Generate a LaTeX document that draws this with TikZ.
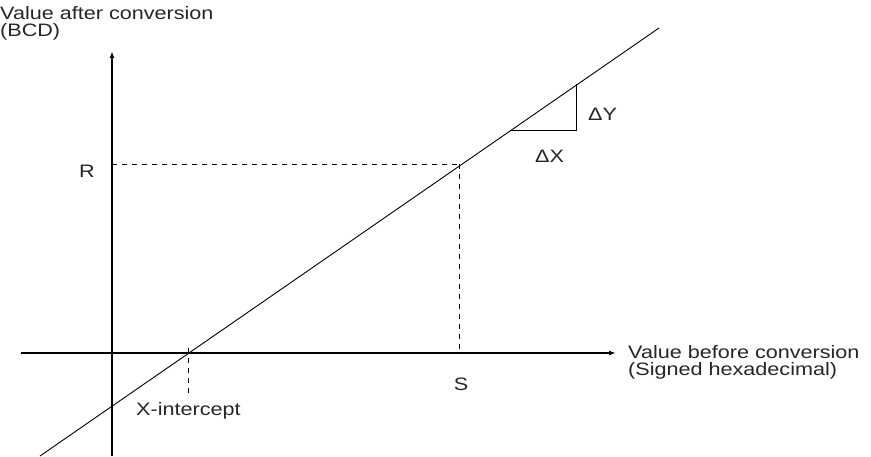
\documentclass[tikz,border=0pt]{standalone}
\usepackage{fontspec}
\setmainfont{Liberation Sans}
\newfontfamily\lblfont[FakeStretch=1.2]{Liberation Sans}
\usetikzlibrary{arrows.meta}
\begin{document}
\begin{tikzpicture}[x=1pt,y=-1pt,
  lbl/.style={inner sep=0pt,font=\lblfont\fontsize{18}{18}\selectfont,text=black!85},
  axis/.style={line width=1.8pt,-{Latex[length=7pt,width=5pt]}},
  thin line/.style={line width=0.9pt},
  dash line/.style={line width=0.8pt,dash pattern=on 5pt off 5pt}]
\useasboundingbox (0,0) rectangle (871,456);
% axes
\coordinate (xs) at (21,353);
\coordinate (xe) at (616,353);
\coordinate (ys) at (112,456);
\coordinate (ye) at (112,51);
\draw[axis] (xs) -- (xe);
\draw[axis] (ys) -- (ye);
% line
\coordinate (ls) at (40,456);
\coordinate (le) at (659,28);
\draw[thin line] (ls) -- (le);
% R and S
\coordinate (ry) at (112,164);
\coordinate (p) at (459,164);
\coordinate (sx) at (459,353);
\draw[dash line] (ry) -- (p);
\draw[dash line] (p) -- (sx);
% x-intercept
\coordinate (xi) at (188,353);
\coordinate (xib) at (188,398);
\draw[dash line] ([yshift=5pt]xi) -- (xib);
% triangle
\coordinate (t1) at (510,130);
\coordinate (t2) at (576,130);
\coordinate (t3) at (576,84);
\draw[thin line] (t1) -- (t2) -- (t3);
% labels
\node[lbl,anchor=base west] (ylab1) at (0,19) {Value after conversion};
\node[lbl,anchor=base west] (ylab2) at (0,36) {(BCD)};
\node[lbl,anchor=base west] (xlab1) at (628,358) {Value before conversion};
\node[lbl,anchor=base west] (xlab2) at (628,375) {(Signed hexadecimal)};
\node[lbl,anchor=base] (R) at (87,177) {R};
\node[lbl,anchor=base] (S) at (461,390) {S};
\node[lbl,anchor=base west] (XI) at (136,415) {X-intercept};
\node[lbl,anchor=base west] (DY) at (588,120) {ΔY};
\node[lbl,anchor=base west] (DX) at (535,162) {ΔX};
\end{tikzpicture}
\end{document}
